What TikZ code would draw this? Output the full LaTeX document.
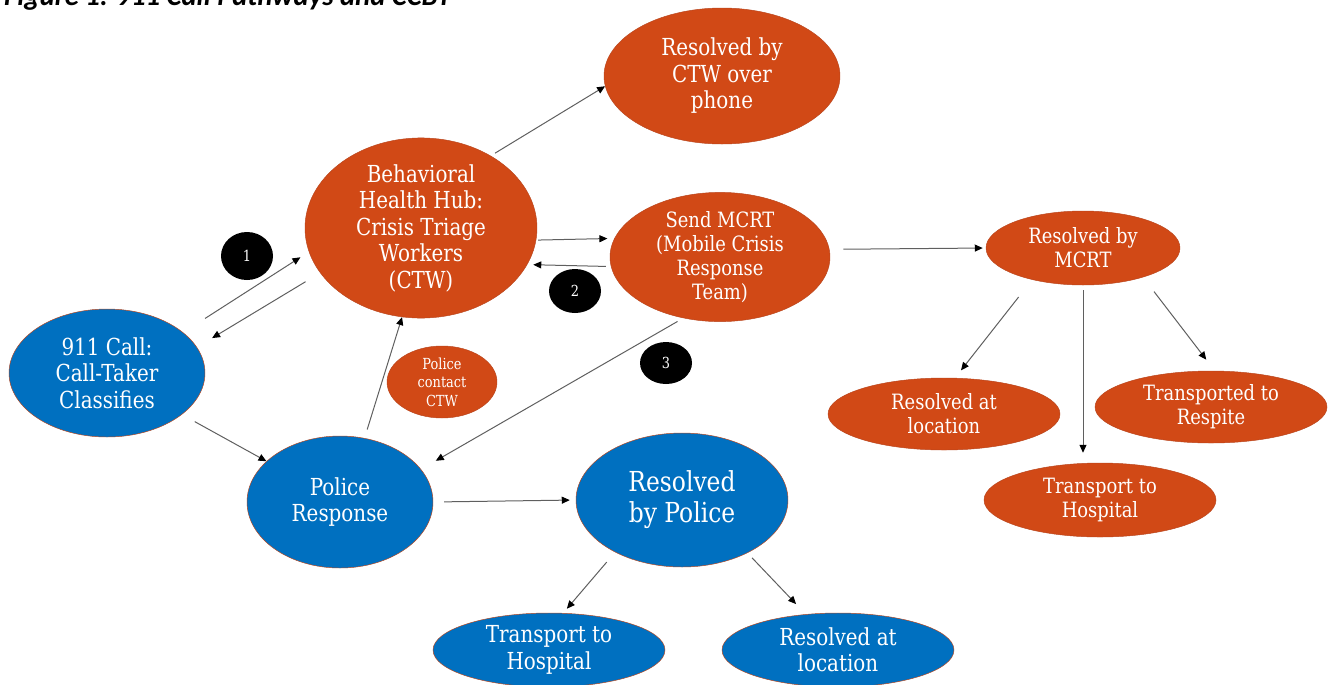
\documentclass[tikz,border=0pt]{standalone}
\usepackage{fontspec}
\setmainfont{DejaVu Serif}[FakeStretch=0.85]
\newfontfamily\titlefont{Carlito}
\usetikzlibrary{arrows.meta,shapes.geometric}
\definecolor{hubred}{RGB}{209,73,22}
\definecolor{callblue}{RGB}{0,112,192}
\definecolor{rim}{RGB}{185,70,30}
\definecolor{wire}{RGB}{95,95,95}
\newcommand\fbig{\fontsize{23.5}{26.5}\selectfont}
\newcommand\fnorm{\fontsize{20}{22.6}\selectfont}
\newcommand\fmid{\fontsize{18}{20.5}\selectfont}
\newcommand\fsmall{\fontsize{13}{15.8}\selectfont}
\tikzset{>={Triangle[length=2.4mm,width=2.1mm,color=black]}}
\tikzset{
  bubble/.style={ellipse,draw=rim,line width=0.4pt,inner sep=0pt,
    text=white,align=center},
  redbub/.style={bubble,fill=hubred},
  bluebub/.style={bubble,fill=callblue},
  badge/.style={ellipse,fill=black,inner sep=0pt,text=white,
    font=\fontsize{13}{13}\selectfont},
  flow/.style={->,wire,line width=0.3mm},
}

\begin{document}
\begin{tikzpicture}[x=0.3mm,y=-0.3mm]
  \useasboundingbox (0,0) rectangle (1333,684);

  % Caption (cut at the top edge)
  \node[anchor=base west,inner sep=0pt,
    font=\titlefont\bfseries\itshape\fontsize{24.5}{24.5}\selectfont]
    (title) at (4,5.5) {Figure 1: 911 Call Pathways and CCBT};

  % Call intake and triage
  \node[bluebub,minimum width=58.8mm,minimum height=38.4mm,font=\fnorm]
    (call) at (107,373) {911 Call:\\Call-Taker\\Classifies};
  \node[redbub,minimum width=69.6mm,minimum height=51mm,font=\fnorm]
    (hub) at (421,228)
    {Behavioral\\Health Hub:\\Crisis Triage\\Workers\\(CTW)};
  \node[redbub,minimum width=70.8mm,minimum height=40.8mm,font=\fnorm]
    (phone) at (722,76) {Resolved by\\CTW over\\phone};
  \node[redbub,minimum width=66mm,minimum height=38.4mm,font=\fmid]
    (mcrt) at (720,257)
    {Send MCRT\\(Mobile Crisis\\Response\\Team)};

  % Mobile crisis outcomes
  \node[redbub,minimum width=58.2mm,minimum height=22.2mm,font=\fmid]
    (resmcrt) at (1083,248) {Resolved by\\MCRT};
  \node[redbub,minimum width=69.6mm,minimum height=21.6mm,font=\fmid]
    (mloc) at (944,414) {Resolved at\\location};
  \node[redbub,minimum width=69.6mm,minimum height=21.6mm,font=\fmid]
    (respite) at (1211,407) {Transported to\\Respite};
  \node[redbub,minimum width=69.6mm,minimum height=22.2mm,font=\fmid]
    (mhosp) at (1100,500) {Transport to\\Hospital};

  % Police branch
  \node[redbub,minimum width=33mm,minimum height=21.6mm,font=\fsmall]
    (pcontact) at (442,382) {Police\\contact\\CTW};
  \node[bluebub,minimum width=55.8mm,minimum height=39.6mm,font=\fnorm]
    (police) at (340,502) {Police\\Response};
  \node[bluebub,minimum width=63.6mm,minimum height=40.2mm,font=\fbig]
    (respol) at (682,500) {Resolved\\by Police};
  \node[bluebub,minimum width=69.6mm,minimum height=22.2mm,font=\fnorm]
    (phosp) at (549,650) {Transport to\\Hospital};
  \node[bluebub,minimum width=69.6mm,minimum height=22.2mm,font=\fnorm]
    (ploc) at (838,650) {Resolved at\\location};

  % Numbered markers
  \node[badge,minimum width=15.6mm,minimum height=14.4mm]
    (one) at (247,256) {1};
  \node[badge,minimum width=15.6mm,minimum height=13.2mm]
    (two) at (575,291) {2};
  \node[badge,minimum width=15.6mm,minimum height=12.6mm]
    (three) at (666,363) {3};

  % Connectors
  \draw[flow,shorten <=7.8mm,shorten >=3mm] (call.28) -- (hub.192);
  \draw[flow,shorten <=5.1mm,shorten >=5.3mm] (hub.204) -- (call.16);
  \draw[flow,shorten <=4.4mm] (call.-29) -- (police.151);
  \draw[flow,shorten <=2.7mm] (police.69) -- (hub.-102);
  \draw[flow,shorten <=0.6mm,shorten >=2.1mm] (hub.-6) -- (mcrt.170);
  \draw[flow,shorten <=1.5mm,shorten >=1.8mm] (mcrt.185) -- (hub.-19);
  \draw[flow,shorten <=1.5mm] (hub.46) -- (phone.185);
  \draw[flow,shorten <=2mm,shorten >=5.1mm] (mcrt.239) -- (police.22);
  \draw[flow,shorten <=4.2mm,shorten >=0.9mm] (mcrt.4) -- (resmcrt.180);

  \draw[flow,shorten <=6.6mm,shorten >=2.9mm] (resmcrt.212) -- (mloc.73);
  \draw[flow,shorten <=1.5mm,shorten >=3mm]
    (resmcrt.south) -- (resmcrt.south |- mhosp.north);
  \draw[flow,shorten <=5.4mm,shorten >=4.2mm] (resmcrt.-26) -- (respite.84);

  \draw[flow,shorten <=3.3mm,shorten >=1.8mm] (police.east) -- (respol.west);
  \draw[flow,shorten <=3.9mm,shorten >=1.7mm] (respol.218) -- (phosp.69);
  \draw[flow,shorten <=2mm,shorten >=4.2mm] (respol.-39) -- (ploc.132);
\end{tikzpicture}
\end{document}
